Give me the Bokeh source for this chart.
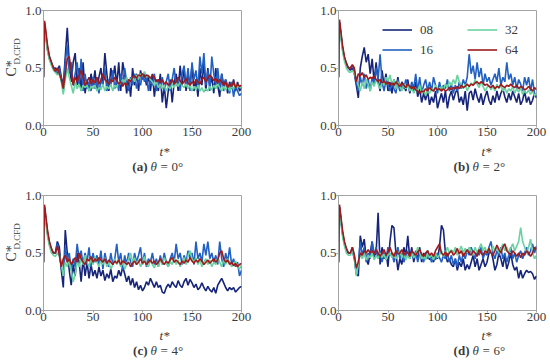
from bokeh.plotting import figure
from bokeh.layouts import row, column
from bokeh.models import Range1d, FixedTicker, PrintfTickFormatter, Label, Legend, LegendItem
from bokeh.embed import file_html
from bokeh.resources import INLINE
from bokeh.core.validation import silence
from bokeh.core.validation.warnings import MISSING_RENDERERS

silence(MISSING_RENDERERS, True)

# sampling times t*
T = [0, 1] + list(range(2, 201, 2))

SERIES = ["08", "16", "32", "64"]
COLORS = ["#16257a", "#2260c2", "#68d2a0", "#9e1a1c"]
X_TICKS = [0, 50, 100, 150, 200]
Y_TICKS = [0.0, 0.5, 1.0]
LETTERS = ["(a)", "(b)", "(c)", "(d)"]
ANGLES = ["0°", "2°", "4°", "6°"]

# ---------- (a) theta = 0 deg ----------
A_08 = [0.42, 0.88, 0.8, 0.66, 0.58, 0.54, 0.5, 0.5,
        0.48, 0.52, 0.42, 0.35, 0.6, 0.85, 0.55, 0.38, 0.55, 0.63,
        0.35, 0.5, 0.3, 0.55, 0.28, 0.4, 0.3, 0.45, 0.35, 0.48,
        0.3, 0.42, 0.5, 0.35, 0.63, 0.45, 0.3, 0.5, 0.4, 0.52,
        0.35, 0.55, 0.3, 0.55, 0.45, 0.28, 0.4, 0.25, 0.5, 0.35,
        0.45, 0.3, 0.48, 0.4, 0.45, 0.35, 0.43, 0.3, 0.45, 0.25,
        0.4, 0.3, 0.45, 0.2, 0.35, 0.15, 0.3, 0.4, 0.2, 0.38,
        0.45, 0.3, 0.52, 0.35, 0.5, 0.3, 0.45, 0.35, 0.52, 0.3,
        0.4, 0.25, 0.5, 0.35, 0.55, 0.3, 0.5, 0.35, 0.42, 0.28,
        0.5, 0.35, 0.25, 0.45, 0.35, 0.4, 0.28, 0.38, 0.32, 0.4,
        0.3, 0.38, 0.3, 0.33]
A_16 = [0.42, 0.9, 0.82, 0.68, 0.6, 0.55, 0.5, 0.48,
        0.45, 0.5, 0.4, 0.3, 0.55, 0.7, 0.45, 0.55, 0.35, 0.45,
        0.55, 0.35, 0.58, 0.3, 0.45, 0.32, 0.38, 0.3, 0.42, 0.32,
        0.38, 0.28, 0.4, 0.35, 0.5, 0.3, 0.4, 0.35, 0.48, 0.32,
        0.4, 0.3, 0.45, 0.35, 0.5, 0.38, 0.3, 0.42, 0.35, 0.45,
        0.32, 0.4, 0.35, 0.45, 0.38, 0.42, 0.3, 0.4, 0.35, 0.45,
        0.3, 0.4, 0.35, 0.42, 0.3, 0.38, 0.45, 0.3, 0.4, 0.5,
        0.35, 0.42, 0.3, 0.45, 0.52, 0.35, 0.5, 0.3, 0.55, 0.4,
        0.48, 0.32, 0.6, 0.45, 0.63, 0.35, 0.48, 0.3, 0.6, 0.45,
        0.35, 0.5, 0.32, 0.45, 0.3, 0.4, 0.35, 0.28, 0.38, 0.25,
        0.35, 0.3, 0.26, 0.28]
A_32 = [0.42, 0.88, 0.8, 0.65, 0.57, 0.52, 0.48, 0.46,
        0.44, 0.45, 0.38, 0.27, 0.4, 0.5, 0.42, 0.35, 0.28, 0.38,
        0.32, 0.36, 0.3, 0.35, 0.33, 0.35, 0.3, 0.34, 0.32, 0.35,
        0.3, 0.33, 0.31, 0.36, 0.3, 0.34, 0.32, 0.36, 0.3, 0.35,
        0.33, 0.38, 0.36, 0.4, 0.37, 0.42, 0.38, 0.4, 0.42, 0.38,
        0.44, 0.4, 0.45, 0.43, 0.47, 0.42, 0.44, 0.4, 0.38, 0.35,
        0.38, 0.33, 0.36, 0.32, 0.35, 0.3, 0.34, 0.32, 0.36, 0.33,
        0.37, 0.34, 0.38, 0.35, 0.33, 0.36, 0.32, 0.35, 0.3, 0.34,
        0.31, 0.35, 0.3, 0.33, 0.29, 0.32, 0.3, 0.34, 0.31, 0.35,
        0.32, 0.36, 0.33, 0.3, 0.34, 0.31, 0.35, 0.3, 0.34, 0.32,
        0.36, 0.33, 0.35, 0.32]
A_64 = [0.42, 0.91, 0.85, 0.7, 0.6, 0.55, 0.5, 0.47,
        0.5, 0.45, 0.4, 0.32, 0.45, 0.58, 0.6, 0.48, 0.35, 0.42,
        0.38, 0.43, 0.48, 0.42, 0.35, 0.38, 0.42, 0.36, 0.4, 0.37,
        0.42, 0.36, 0.4, 0.45, 0.4, 0.38, 0.36, 0.4, 0.38, 0.42,
        0.39, 0.36, 0.38, 0.34, 0.37, 0.35, 0.4, 0.38, 0.42, 0.43,
        0.41, 0.44, 0.43, 0.45, 0.42, 0.44, 0.43, 0.41, 0.44, 0.42,
        0.38, 0.4, 0.37, 0.4, 0.36, 0.38, 0.35, 0.37, 0.4, 0.36,
        0.38, 0.42, 0.39, 0.36, 0.38, 0.41, 0.37, 0.35, 0.38, 0.36,
        0.4, 0.38, 0.36, 0.4, 0.42, 0.38, 0.41, 0.44, 0.42, 0.39,
        0.41, 0.37, 0.4, 0.38, 0.35, 0.38, 0.33, 0.36, 0.34, 0.38,
        0.33, 0.36, 0.34, 0.35]

# ---------- (b) theta = 2 deg ----------
B_08 = [0.42, 0.9, 0.82, 0.68, 0.58, 0.54, 0.5, 0.48,
        0.5, 0.45, 0.35, 0.24, 0.5, 0.6, 0.68, 0.55, 0.62, 0.45,
        0.58, 0.38, 0.55, 0.4, 0.3, 0.48, 0.35, 0.45, 0.3, 0.38,
        0.28, 0.4, 0.32, 0.42, 0.3, 0.38, 0.35, 0.3, 0.4, 0.28,
        0.35, 0.3, 0.38, 0.25, 0.32, 0.2, 0.28, 0.22, 0.3, 0.18,
        0.25, 0.2, 0.3, 0.15, 0.22, 0.28, 0.2, 0.3, 0.15, 0.25,
        0.3, 0.22, 0.28, 0.32, 0.2, 0.25, 0.18, 0.3, 0.13, 0.28,
        0.3, 0.22, 0.32, 0.25, 0.2, 0.28, 0.18, 0.25, 0.3, 0.22,
        0.18, 0.26, 0.2, 0.3, 0.22, 0.28, 0.32, 0.25, 0.2, 0.28,
        0.22, 0.3, 0.25, 0.2, 0.28, 0.18, 0.22, 0.3, 0.2, 0.25,
        0.18, 0.22, 0.28, 0.24]
B_16 = [0.42, 0.9, 0.82, 0.67, 0.58, 0.53, 0.5, 0.5,
        0.52, 0.48, 0.38, 0.3, 0.42, 0.35, 0.45, 0.32, 0.4, 0.3,
        0.42, 0.35, 0.5, 0.4, 0.62, 0.38, 0.3, 0.4, 0.35, 0.3,
        0.38, 0.32, 0.28, 0.4, 0.3, 0.36, 0.32, 0.4, 0.35, 0.3,
        0.38, 0.32, 0.45, 0.3, 0.42, 0.28, 0.35, 0.4, 0.3, 0.38,
        0.3, 0.42, 0.35, 0.28, 0.38, 0.3, 0.35, 0.32, 0.4, 0.3,
        0.36, 0.28, 0.35, 0.3, 0.38, 0.32, 0.4, 0.35, 0.42, 0.62,
        0.45, 0.52, 0.4, 0.55, 0.42, 0.5, 0.35, 0.45, 0.38, 0.42,
        0.35, 0.4, 0.45, 0.38, 0.5, 0.35, 0.42, 0.38, 0.55, 0.4,
        0.45, 0.35, 0.42, 0.32, 0.4, 0.36, 0.3, 0.42, 0.35, 0.42,
        0.3, 0.4, 0.28, 0.25]
B_32 = [0.42, 0.88, 0.8, 0.65, 0.56, 0.5, 0.47, 0.46,
        0.48, 0.45, 0.4, 0.35, 0.3, 0.38, 0.32, 0.4, 0.36, 0.3,
        0.38, 0.34, 0.4, 0.36, 0.32, 0.38, 0.35, 0.42, 0.38, 0.44,
        0.36, 0.4, 0.32, 0.38, 0.34, 0.3, 0.36, 0.32, 0.35, 0.3,
        0.33, 0.28, 0.32, 0.3, 0.35, 0.28, 0.32, 0.26, 0.3, 0.28,
        0.32, 0.3, 0.35, 0.32, 0.3, 0.34, 0.31, 0.36, 0.33, 0.38,
        0.35, 0.4, 0.36, 0.44, 0.38, 0.35, 0.32, 0.36, 0.3, 0.34,
        0.37, 0.35, 0.4, 0.36, 0.33, 0.38, 0.34, 0.3, 0.33, 0.35,
        0.31, 0.34, 0.3, 0.36, 0.32, 0.35, 0.3, 0.33, 0.28, 0.32,
        0.3, 0.34, 0.28, 0.32, 0.29, 0.33, 0.27, 0.3, 0.28, 0.31,
        0.27, 0.3, 0.26, 0.28]
B_64 = [0.42, 0.92, 0.85, 0.7, 0.6, 0.54, 0.5, 0.5,
        0.53, 0.5, 0.38, 0.45, 0.43, 0.46, 0.42, 0.44, 0.4, 0.42,
        0.41, 0.43, 0.4, 0.38, 0.4, 0.37, 0.39, 0.36, 0.38, 0.35,
        0.37, 0.35, 0.38, 0.36, 0.34, 0.37, 0.35, 0.33, 0.36, 0.34,
        0.32, 0.34, 0.31, 0.3, 0.28, 0.3, 0.29, 0.32, 0.3, 0.33,
        0.31, 0.3, 0.33, 0.31, 0.32, 0.3, 0.32, 0.3, 0.31, 0.33,
        0.31, 0.33, 0.32, 0.34, 0.32, 0.35, 0.33, 0.34, 0.36, 0.34,
        0.36, 0.35, 0.37, 0.38, 0.36, 0.38, 0.37, 0.35, 0.36, 0.34,
        0.33, 0.35, 0.32, 0.34, 0.33, 0.36, 0.34, 0.33, 0.35, 0.34,
        0.36, 0.34, 0.33, 0.35, 0.32, 0.34, 0.33, 0.31, 0.32, 0.34,
        0.32, 0.3, 0.33, 0.31]

# ---------- (c) theta = 4 deg ----------
C_08 = [0.42, 0.9, 0.82, 0.67, 0.58, 0.53, 0.5, 0.5,
        0.6, 0.55, 0.35, 0.2, 0.7, 0.5, 0.35, 0.22, 0.4, 0.3,
        0.5, 0.42, 0.25, 0.45, 0.3, 0.42, 0.28, 0.4, 0.3, 0.35,
        0.28, 0.38, 0.3, 0.35, 0.26, 0.32, 0.28, 0.36, 0.25, 0.3,
        0.28, 0.35, 0.3, 0.38, 0.32, 0.25, 0.3, 0.22, 0.28, 0.2,
        0.25, 0.18, 0.22, 0.17, 0.2, 0.25, 0.22, 0.28, 0.24, 0.2,
        0.25, 0.2, 0.22, 0.16, 0.15, 0.2, 0.23, 0.2, 0.25, 0.22,
        0.2, 0.26, 0.22, 0.2, 0.25, 0.28, 0.22, 0.27, 0.24, 0.2,
        0.23, 0.18, 0.2, 0.24, 0.2, 0.17, 0.21, 0.18, 0.16, 0.2,
        0.15, 0.22, 0.25, 0.28, 0.24, 0.2, 0.17, 0.2, 0.18, 0.2,
        0.16, 0.18, 0.2, 0.21]
C_16 = [0.42, 0.9, 0.82, 0.68, 0.58, 0.53, 0.5, 0.5,
        0.58, 0.5, 0.38, 0.3, 0.55, 0.45, 0.5, 0.35, 0.45, 0.38,
        0.58, 0.45, 0.52, 0.4, 0.5, 0.42, 0.55, 0.38, 0.5, 0.42,
        0.48, 0.4, 0.52, 0.36, 0.5, 0.42, 0.38, 0.5, 0.4, 0.45,
        0.58, 0.42, 0.5, 0.35, 0.48, 0.4, 0.5, 0.42, 0.38, 0.5,
        0.42, 0.48, 0.55, 0.4, 0.5, 0.38, 0.45, 0.42, 0.5, 0.4,
        0.45, 0.38, 0.48, 0.4, 0.5, 0.42, 0.38, 0.45, 0.5, 0.42,
        0.58, 0.45, 0.5, 0.4, 0.48, 0.42, 0.52, 0.45, 0.5, 0.4,
        0.6, 0.45, 0.5, 0.42, 0.58, 0.48, 0.6, 0.45, 0.5, 0.42,
        0.48, 0.4, 0.6, 0.45, 0.38, 0.5, 0.42, 0.55, 0.4, 0.45,
        0.38, 0.42, 0.3, 0.35]
C_32 = [0.42, 0.88, 0.8, 0.65, 0.56, 0.5, 0.48, 0.47,
        0.5, 0.48, 0.4, 0.3, 0.42, 0.38, 0.45, 0.35, 0.25, 0.32,
        0.42, 0.38, 0.45, 0.4, 0.48, 0.42, 0.38, 0.45, 0.4, 0.47,
        0.42, 0.38, 0.44, 0.4, 0.46, 0.38, 0.42, 0.36, 0.4, 0.45,
        0.4, 0.44, 0.38, 0.42, 0.36, 0.4, 0.45, 0.5, 0.42, 0.46,
        0.4, 0.44, 0.38, 0.42, 0.47, 0.4, 0.38, 0.44, 0.4, 0.37,
        0.42, 0.38, 0.44, 0.4, 0.46, 0.42, 0.38, 0.43, 0.4, 0.45,
        0.4, 0.44, 0.38, 0.42, 0.46, 0.4, 0.48, 0.52, 0.45, 0.42,
        0.46, 0.4, 0.44, 0.38, 0.42, 0.45, 0.4, 0.44, 0.38, 0.42,
        0.4, 0.46, 0.42, 0.38, 0.44, 0.4, 0.45, 0.42, 0.38, 0.4,
        0.43, 0.38, 0.36, 0.4]
C_64 = [0.42, 0.92, 0.85, 0.7, 0.6, 0.54, 0.5, 0.5,
        0.56, 0.48, 0.38, 0.45, 0.48, 0.42, 0.45, 0.4, 0.43, 0.46,
        0.42, 0.5, 0.45, 0.42, 0.4, 0.45, 0.43, 0.47, 0.42, 0.45,
        0.43, 0.46, 0.44, 0.42, 0.45, 0.41, 0.44, 0.42, 0.4, 0.43,
        0.41, 0.44, 0.4, 0.43, 0.42, 0.4, 0.42, 0.38, 0.41, 0.43,
        0.4, 0.42, 0.45, 0.41, 0.43, 0.4, 0.42, 0.44, 0.41, 0.43,
        0.4, 0.42, 0.45, 0.42, 0.4, 0.43, 0.41, 0.44, 0.46, 0.42,
        0.44, 0.42, 0.4, 0.43, 0.41, 0.44, 0.42, 0.46, 0.43, 0.41,
        0.44, 0.42, 0.45, 0.43, 0.4, 0.42, 0.44, 0.41, 0.43, 0.45,
        0.42, 0.44, 0.5, 0.52, 0.45, 0.42, 0.44, 0.4, 0.42, 0.39,
        0.41, 0.38, 0.4, 0.41]

# ---------- (d) theta = 6 deg ----------
D_08 = [0.42, 0.9, 0.82, 0.67, 0.58, 0.53, 0.5, 0.5,
        0.52, 0.45, 0.32, 0.3, 0.65, 0.55, 0.62, 0.45, 0.4, 0.5,
        0.6, 0.45, 0.5, 0.85, 0.4, 0.55, 0.45, 0.5, 0.38, 0.6,
        0.74, 0.72, 0.5, 0.35, 0.45, 0.4, 0.55, 0.48, 0.65, 0.45,
        0.55, 0.42, 0.5, 0.45, 0.55, 0.42, 0.5, 0.45, 0.52, 0.44,
        0.48, 0.42, 0.5, 0.45, 0.55, 0.74, 0.7, 0.5, 0.42, 0.45,
        0.4, 0.38, 0.45, 0.35, 0.42, 0.38, 0.45, 0.35, 0.4, 0.36,
        0.42, 0.48, 0.38, 0.45, 0.35, 0.4, 0.45, 0.38, 0.42, 0.5,
        0.52, 0.45, 0.35, 0.4, 0.5, 0.45, 0.38, 0.48, 0.36, 0.42,
        0.5, 0.4, 0.35, 0.38, 0.28, 0.35, 0.28, 0.32, 0.35, 0.33,
        0.34, 0.32, 0.27, 0.3]
D_16 = [0.42, 0.9, 0.82, 0.68, 0.58, 0.53, 0.5, 0.5,
        0.55, 0.48, 0.32, 0.4, 0.6, 0.48, 0.55, 0.42, 0.5, 0.45,
        0.6, 0.48, 0.55, 0.45, 0.52, 0.42, 0.5, 0.45, 0.55, 0.48,
        0.5, 0.42, 0.48, 0.55, 0.45, 0.5, 0.42, 0.48, 0.52, 0.45,
        0.5, 0.45, 0.52, 0.42, 0.5, 0.46, 0.42, 0.5, 0.45, 0.48,
        0.42, 0.48, 0.44, 0.5, 0.46, 0.42, 0.48, 0.45, 0.5, 0.42,
        0.48, 0.4, 0.45, 0.38, 0.48, 0.42, 0.5, 0.45, 0.52, 0.48,
        0.55, 0.5, 0.45, 0.52, 0.48, 0.55, 0.45, 0.5, 0.48, 0.55,
        0.6, 0.5, 0.45, 0.52, 0.48, 0.55, 0.45, 0.5, 0.42, 0.48,
        0.55, 0.45, 0.5, 0.42, 0.48, 0.52, 0.45, 0.5, 0.55, 0.48,
        0.52, 0.58, 0.5, 0.56]
D_32 = [0.42, 0.88, 0.8, 0.65, 0.56, 0.5, 0.48, 0.48,
        0.52, 0.46, 0.3, 0.4, 0.5, 0.45, 0.5, 0.44, 0.48, 0.46,
        0.5, 0.44, 0.48, 0.45, 0.5, 0.46, 0.49, 0.44, 0.48, 0.5,
        0.46, 0.5, 0.45, 0.48, 0.52, 0.46, 0.5, 0.44, 0.48, 0.45,
        0.5, 0.46, 0.48, 0.55, 0.5, 0.45, 0.48, 0.44, 0.5, 0.46,
        0.48, 0.44, 0.5, 0.46, 0.48, 0.52, 0.47, 0.5, 0.55, 0.5,
        0.53, 0.5, 0.55, 0.48, 0.52, 0.56, 0.5, 0.54, 0.5, 0.55,
        0.52, 0.48, 0.55, 0.5, 0.54, 0.58, 0.52, 0.55, 0.5, 0.54,
        0.5, 0.56, 0.52, 0.55, 0.5, 0.53, 0.58, 0.52, 0.55, 0.5,
        0.54, 0.58, 0.52, 0.56, 0.6, 0.72, 0.6, 0.55, 0.5, 0.55,
        0.62, 0.5, 0.45, 0.48]
D_64 = [0.42, 0.92, 0.85, 0.7, 0.6, 0.54, 0.5, 0.5,
        0.55, 0.48, 0.37, 0.42, 0.5, 0.48, 0.52, 0.5, 0.53, 0.5,
        0.52, 0.49, 0.53, 0.5, 0.47, 0.5, 0.53, 0.48, 0.51, 0.55,
        0.5, 0.47, 0.52, 0.49, 0.5, 0.53, 0.48, 0.51, 0.5, 0.47,
        0.52, 0.5, 0.48, 0.51, 0.53, 0.49, 0.47, 0.5, 0.52, 0.48,
        0.5, 0.47, 0.52, 0.55, 0.58, 0.5, 0.48, 0.51, 0.47, 0.5,
        0.52, 0.48, 0.5, 0.54, 0.49, 0.52, 0.47, 0.5, 0.53, 0.5,
        0.48, 0.52, 0.5, 0.47, 0.53, 0.5, 0.48, 0.52, 0.5, 0.54,
        0.5, 0.48, 0.52, 0.57, 0.53, 0.5, 0.55, 0.58, 0.52, 0.5,
        0.48, 0.52, 0.5, 0.47, 0.5, 0.46, 0.5, 0.48, 0.52, 0.5,
        0.47, 0.5, 0.55, 0.53]

PANEL_DATA = [
    [A_08, A_16, A_32, A_64],
    [B_08, B_16, B_32, B_64],
    [C_08, C_16, C_32, C_64],
    [D_08, D_16, D_32, D_64],
]

GRAY = "#a3a3a3"
TXT = "#3a3a3a"
SERIF = "Liberation Serif"

YLAB_W = 22
COL1_W = 268
COL2_W = 260
TOP_B = [10, 14]
BOT_B = 17
FIG_H = [TOP_B[0] + 115 + BOT_B, TOP_B[1] + 115 + BOT_B]   # 142, 146
CAP_H = [181 - FIG_H[0], 181 - FIG_H[1]]                   # 39, 35


def text_fig(w, h):
    f = figure(width=w, height=h, x_range=Range1d(0, w), y_range=Range1d(0, h),
               output_backend="svg", toolbar_location=None, title=None,
               x_axis_location=None, y_axis_location=None,
               min_border_left=0, min_border_right=0, min_border_top=0, min_border_bottom=0)
    f.outline_line_color = None
    f.grid.visible = False
    return f


def lab(f, x, y, text, size="13px", style="normal", align="left", angle=0):
    f.add_layout(Label(x=x, y=y, x_units="screen", y_units="screen", text=text,
                       text_font=SERIF, text_font_style=style, text_font_size=size,
                       text_align=align, text_baseline="middle", text_color=TXT,
                       angle=angle, angle_units="deg"))


def make_panel(idx):
    left_col = idx % 2 == 0
    r = idx // 2
    p = figure(
        width=COL1_W if left_col else COL2_W,
        height=FIG_H[r],
        x_range=Range1d(0, 200), y_range=Range1d(0, 1.0),
        output_backend="svg", toolbar_location=None, title=None,
        min_border_left=21 if left_col else 48,
        min_border_right=49 if left_col else 14,
        min_border_top=TOP_B[r],
        min_border_bottom=BOT_B,
    )
    renderers = []
    for ys, col in zip(PANEL_DATA[idx], COLORS):
        renderers.append(p.line(T, ys, line_color=col, line_width=1.6))

    for ax in (p.xaxis[0], p.yaxis[0]):
        ax.axis_line_color = GRAY
        ax.major_tick_line_color = GRAY
        ax.minor_tick_line_color = None
        ax.major_tick_in = 0
        ax.major_tick_out = 2
        ax.major_label_standoff = 0
        ax.major_label_text_font = SERIF
        ax.major_label_text_font_size = "13px"
        ax.major_label_text_color = TXT
    p.xaxis[0].ticker = FixedTicker(ticks=X_TICKS)
    p.yaxis[0].ticker = FixedTicker(ticks=Y_TICKS)
    p.yaxis[0].formatter = PrintfTickFormatter(format="%.1f")
    p.xgrid.visible = False
    p.ygrid.visible = False
    p.outline_line_color = GRAY
    p.outline_line_width = 1

    if idx == 1:
        common = dict(orientation="vertical", glyph_width=30, glyph_height=17,
                      label_height=17, spacing=3, padding=0, margin=0, label_standoff=8,
                      border_line_color=None, background_fill_alpha=0,
                      label_text_font=SERIF, label_text_font_size="13px",
                      label_text_color=TXT)
        leg1 = Legend(items=[LegendItem(label=SERIES[0], renderers=[renderers[0]]),
                             LegendItem(label=SERIES[1], renderers=[renderers[1]])],
                      location=(44, 67), **common)
        leg2 = Legend(items=[LegendItem(label=SERIES[2], renderers=[renderers[2]]),
                             LegendItem(label=SERIES[3], renderers=[renderers[3]])],
                      location=(129, 67), **common)
        p.add_layout(leg1)
        p.add_layout(leg2)

    # caption strip: t* and "(x) theta = .."
    cw = COL1_W if left_col else COL2_W
    cap = text_fig(cw, CAP_H[r])
    xc = 120 if left_col else 147
    yt = 30 if r == 0 else 27      # t* centre  (page y ~151 / ~335)
    yc = 15 if r == 0 else 12      # caption centre (page y ~166 / ~350)
    lab(cap, xc + 1, yt, "t*", size="13px", style="italic", align="center")
    lab(cap, xc - 16, yc, LETTERS[idx], size="13px", style="bold", align="right")
    lab(cap, xc - 13, yc, "θ", size="13px", style="italic")
    lab(cap, xc - 3, yc, "=", size="13px")
    lab(cap, xc + 8, yc, ANGLES[idx], size="13px")
    return column(p, cap)


def make_ylabel(r):
    h = FIG_H[r] + CAP_H[r]
    f = text_fig(YLAB_W, h)
    base = 105 if r == 0 else 101
    lab(f, 11, base, "C*", size="14px", angle=90)
    lab(f, 16, base + 12, "D,CFD", size="9px", angle=90)
    return f


cells = [make_panel(i) for i in range(4)]
root = column(
    row(make_ylabel(0), cells[0], cells[1]),
    row(make_ylabel(1), cells[2], cells[3]),
)

open("out.html", "w").write(file_html(root, INLINE))
